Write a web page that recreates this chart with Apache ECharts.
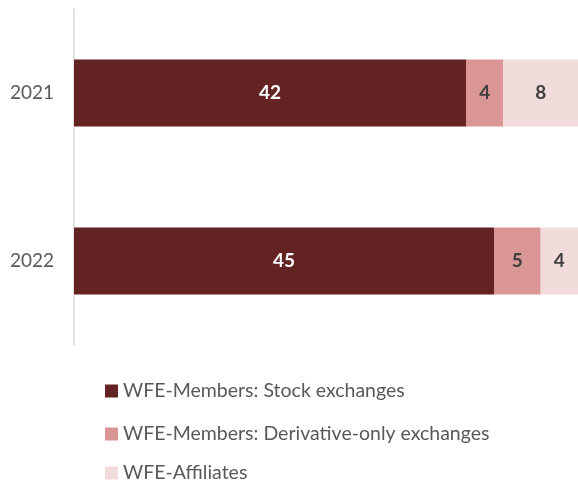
<!DOCTYPE html>
<html>
<head>
<meta charset="utf-8">
<script src="https://cdn.jsdelivr.net/npm/echarts@6/dist/echarts.min.js"></script>
<style>
  html, body { margin: 0; padding: 0; background: #fff; }
  #chart { width: 578px; height: 481px; }
</style>
</head>
<body>
<div id="chart"></div>
<script>
const years = ['2021', '2022'];
const stockExchanges = [42, 45];
const derivativeOnly = [4, 5];
const affiliates = [8, 4];

const seriesNames = [
  'WFE-Members: Stock exchanges',
  'WFE-Members: Derivative-only exchanges',
  'WFE-Affiliates'
];
const seriesColors = ['#632323', '#da9595', '#f2dcdb'];
const labelColors = ['#ffffff', '#404040', '#404040'];
// one legend per entry so each sits on its own row
const legendTops = [381, 424, 463];

const chart = echarts.init(document.getElementById('chart'));

function makeSeries(name, data, idx) {
  return {
    name: name,
    type: 'bar',
    stack: 'total',
    data: data,
    barWidth: '40%',
    itemStyle: { color: seriesColors[idx] },
    label: {
      show: true,
      position: 'inside',
      color: labelColors[idx],
      fontFamily: 'Lato',
      fontWeight: 'bold',
      fontSize: 19
    }
  };
}

chart.setOption({
  backgroundColor: '#ffffff',
  animation: false,
  grid: {
    left: 74,
    right: -1,
    top: 9,
    bottom: 136,
    containLabel: false
  },
  legend: seriesNames.map((name, i) => ({
    orient: 'horizontal',
    left: 105,
    top: legendTops[i],
    padding: 0,
    itemWidth: 13,
    itemHeight: 13,
    itemGap: 0,
    icon: 'rect',
    textStyle: {
      color: '#595959',
      fontFamily: 'Lato',
      fontSize: 19.5
    },
    data: [name]
  })),
  xAxis: {
    type: 'value',
    min: 0,
    max: 54,
    show: false,
    splitLine: { show: false }
  },
  yAxis: {
    type: 'category',
    data: years,
    inverse: true,
    axisTick: { show: false },
    axisLine: { lineStyle: { color: '#d9d9d9', width: 1.5 } },
    axisLabel: {
      color: '#595959',
      fontFamily: 'Lato',
      fontSize: 19,
      margin: 20
    }
  },
  series: [
    makeSeries(seriesNames[0], stockExchanges, 0),
    makeSeries(seriesNames[1], derivativeOnly, 1),
    makeSeries(seriesNames[2], affiliates, 2)
  ]
});
</script>
</body>
</html>
